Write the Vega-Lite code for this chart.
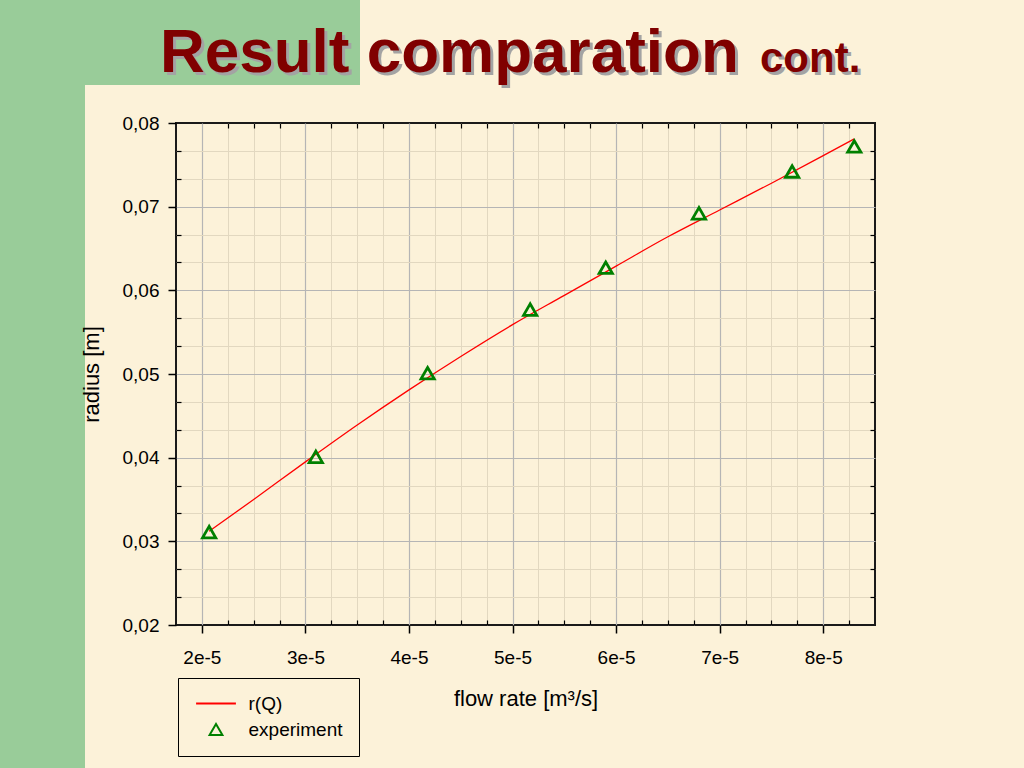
{
  "$schema": "https://vega.github.io/schema/vega-lite/v6.json",
  "background": "#FCF2D9",
  "padding": 0,
  "columns": 3,
  "spacing": {"row": 0, "column": 0},
  "bounds": "flush",
  "config": {
    "font": "Liberation Sans",
    "view": {"stroke": null},
    "legend": {
      "orient": "none",
      "legendX": 178,
      "legendY": 678,
      "padding": 16,
      "rowPadding": 5,
      "symbolOffset": 12.5,
      "labelOffset": 23,
      "strokeColor": "#000000",
      "labelFontSize": 19,
      "labelColor": "#000000",
      "symbolSize": 165,
      "symbolStrokeWidth": 2
    }
  },
  "datasets": {
    "model": [
      {"Q": 2.07e-5, "r": 0.0312, "series": "r(Q)"},
      {"Q": 2.5e-5, "r": 0.0350, "series": "r(Q)"},
      {"Q": 3.0e-5, "r": 0.0395, "series": "r(Q)"},
      {"Q": 3.5e-5, "r": 0.0439, "series": "r(Q)"},
      {"Q": 4.0e-5, "r": 0.0481, "series": "r(Q)"},
      {"Q": 4.5e-5, "r": 0.0521, "series": "r(Q)"},
      {"Q": 5.0e-5, "r": 0.0559, "series": "r(Q)"},
      {"Q": 5.5e-5, "r": 0.0594, "series": "r(Q)"},
      {"Q": 6.0e-5, "r": 0.0629, "series": "r(Q)"},
      {"Q": 6.5e-5, "r": 0.0664, "series": "r(Q)"},
      {"Q": 7.0e-5, "r": 0.0696, "series": "r(Q)"},
      {"Q": 7.5e-5, "r": 0.0728, "series": "r(Q)"},
      {"Q": 8.0e-5, "r": 0.0761, "series": "r(Q)"},
      {"Q": 8.3e-5, "r": 0.0781, "series": "r(Q)"}
    ],
    "exp": [
      {"Q": 2.07e-5, "r": 0.0311, "series": "experiment"},
      {"Q": 3.10e-5, "r": 0.0401, "series": "experiment"},
      {"Q": 4.18e-5, "r": 0.0501, "series": "experiment"},
      {"Q": 5.17e-5, "r": 0.0577, "series": "experiment"},
      {"Q": 5.90e-5, "r": 0.0627, "series": "experiment"},
      {"Q": 6.80e-5, "r": 0.0692, "series": "experiment"},
      {"Q": 7.70e-5, "r": 0.0742, "series": "experiment"},
      {"Q": 8.30e-5, "r": 0.0772, "series": "experiment"}
    ]
  },
  "concat": [
    {"width": 85, "height": 85, "view": {"fill": "#99CC99", "stroke": null}, "data": {"values": [{}]}, "mark": {"type": "text", "text": ""}},
    {"width": 91, "height": 85, "view": {"fill": "#99CC99", "stroke": null}, "data": {"values": [{}]}, "mark": {"type": "text", "text": ""}},
    {"width": 184, "height": 85, "view": {"fill": "#99CC99", "stroke": null}, "data": {"values": [{}]}, "mark": {"type": "text", "text": ""}},
    {
      "width": 85, "height": 38, "view": {"fill": "#99CC99", "stroke": null}, "data": {"values": [{}]}, "mark": {"type": "text", "text": ""},
      "title": {"text": "Result comparation", "orient": "top", "anchor": "start", "frame": "group", "dx": 163, "offset": -52,
                "baseline": "alphabetic", "fontSize": 62, "fontWeight": "bold", "color": "#A3A3A3"}
    },
    {
      "width": 91, "height": 38, "view": {"stroke": null}, "data": {"values": [{}]}, "mark": {"type": "text", "text": ""},
      "title": {"text": "cont.", "orient": "top", "anchor": "start", "frame": "group", "dx": 678, "offset": -32,
                "baseline": "alphabetic", "fontSize": 42, "fontWeight": "bold", "color": "#A3A3A3"}
    },
    {
      "width": 848, "height": 38, "view": {"stroke": null}, "data": {"values": [{}]}, "mark": {"type": "text", "text": ""},
      "title": {"text": "Result comparation", "orient": "top", "anchor": "start", "frame": "group", "dx": -16, "offset": -49,
                "baseline": "alphabetic", "fontSize": 62, "fontWeight": "bold", "color": "#800000"}
    },
    {
      "width": 85, "height": 645, "view": {"fill": "#99CC99", "stroke": null}, "data": {"values": [{}]}, "mark": {"type": "text", "text": ""},
      "title": {"text": "cont.", "orient": "top", "anchor": "start", "frame": "group", "dx": 760, "offset": 9,
                "baseline": "alphabetic", "fontSize": 42, "fontWeight": "bold", "color": "#800000"}
    },
    {"width": 91, "height": 645, "view": {"stroke": null}, "data": {"values": [{}]}, "mark": {"type": "text", "text": ""}},
    {
      "width": 699,
      "height": 502,
      "view": {"stroke": "#1a1a1a", "strokeWidth": 2},
      "resolve": {"axis": {"x": "independent", "y": "independent"}},
      "layer": [
        {
          "data": {"name": "exp"},
          "mark": {"type": "point", "opacity": 0},
          "encoding": {
            "x": {
              "field": "Q", "type": "quantitative",
              "scale": {"domain": [1.75e-5, 8.5e-5], "nice": false, "zero": false},
              "axis": {
                "orient": "bottom",
                "values": [2.25e-5, 2.5e-5, 2.75e-5, 3.25e-5, 3.5e-5, 3.75e-5, 4.25e-5, 4.5e-5, 4.75e-5, 5.25e-5, 5.5e-5, 5.75e-5, 6.25e-5, 6.5e-5, 6.75e-5, 7.25e-5, 7.5e-5, 7.75e-5, 8.25e-5],
                "labels": false, "domain": false, "title": null,
                "ticks": true, "tickSize": -5, "tickColor": "#000000", "tickWidth": 1.2,
                "grid": true, "gridColor": "#E2D8C0", "gridWidth": 1
              }
            },
            "y": {
              "field": "r", "type": "quantitative",
              "scale": {"domain": [0.02, 0.08], "nice": false, "zero": false},
              "axis": {
                "orient": "left",
                "values": [0.023333, 0.026667, 0.033333, 0.036667, 0.043333, 0.046667, 0.053333, 0.056667, 0.063333, 0.066667, 0.073333, 0.076667],
                "labels": false, "domain": false, "title": null,
                "ticks": true, "tickSize": -5, "tickColor": "#000000", "tickWidth": 1.2,
                "grid": true, "gridColor": "#E2D8C0", "gridWidth": 1
              }
            }
          }
        },
        {
          "data": {"name": "model"},
          "mark": {"type": "line", "strokeWidth": 1.3, "interpolate": "monotone"},
          "encoding": {
            "x": {
              "field": "Q", "type": "quantitative",
              "axis": {
                "orient": "bottom",
                "values": [2e-5, 3e-5, 4e-5, 5e-5, 6e-5, 7e-5, 8e-5],
                "labelExpr": "round(datum.value*1e5) + 'e-5'",
                "labelFontSize": 19, "labelColor": "#000000", "labelPadding": 15,
                "tickSize": 8, "tickColor": "#000000", "tickWidth": 1.5,
                "domain": false,
                "grid": true, "gridColor": "#B5B5B5", "gridWidth": 1.2,
                "title": "flow rate [m³/s]", "titleFontSize": 22, "titleFontWeight": "normal",
                "titleColor": "#000000", "titlePadding": 21
              }
            },
            "y": {
              "field": "r", "type": "quantitative",
              "axis": {
                "orient": "left",
                "values": [0.02, 0.03, 0.04, 0.05, 0.06, 0.07, 0.08],
                "labelExpr": "replace(format(datum.value, '.2f'), '.', ',')",
                "labelFontSize": 19, "labelColor": "#000000", "labelPadding": 9,
                "tickSize": 8, "tickColor": "#000000", "tickWidth": 1.5,
                "domain": false,
                "grid": true, "gridColor": "#B5B5B5", "gridWidth": 1.2,
                "gridOpacity": {"condition": {"test": "datum.value < 0.0201 || datum.value > 0.0799", "value": 0}, "value": 1},
                "title": "radius [m]", "titleFontSize": 22, "titleFontWeight": "normal",
                "titleColor": "#000000", "titlePadding": 19
              }
            },
            "color": {
              "field": "series", "type": "nominal",
              "scale": {"domain": ["r(Q)", "experiment"], "range": ["#FF0000", "#008000"]},
              "legend": {"title": null}
            }
          }
        },
        {
          "data": {"name": "exp"},
          "mark": {"type": "point", "filled": false, "strokeWidth": 2.8, "size": 175, "opacity": 1},
          "encoding": {
            "x": {
              "field": "Q", "type": "quantitative",
              "axis": {
                "orient": "top",
                "values": [2.25e-5, 2.5e-5, 2.75e-5, 3.25e-5, 3.5e-5, 3.75e-5, 4.25e-5, 4.5e-5, 4.75e-5, 5.25e-5, 5.5e-5, 5.75e-5, 6.25e-5, 6.5e-5, 6.75e-5, 7.25e-5, 7.5e-5, 7.75e-5, 8.25e-5],
                "labels": false, "domain": false, "title": null, "grid": false,
                "ticks": true, "tickSize": -5, "tickColor": "#000000", "tickWidth": 1.2
              }
            },
            "y": {
              "field": "r", "type": "quantitative",
              "axis": {
                "orient": "right",
                "values": [0.023333, 0.026667, 0.033333, 0.036667, 0.043333, 0.046667, 0.053333, 0.056667, 0.063333, 0.066667, 0.073333, 0.076667],
                "labels": false, "domain": false, "title": null, "grid": false,
                "ticks": true, "tickSize": -5, "tickColor": "#000000", "tickWidth": 1.2
              }
            },
            "color": {
              "field": "series", "type": "nominal",
              "scale": {"domain": ["r(Q)", "experiment"], "range": ["#FF0000", "#008000"]},
              "legend": {"title": null}
            },
            "shape": {
              "field": "series", "type": "nominal",
              "scale": {"domain": ["r(Q)", "experiment"], "range": ["M-3.1,0H3.1", "triangle-up"]},
              "legend": {"title": null}
            }
          }
        }
      ]
    }
  ]
}
